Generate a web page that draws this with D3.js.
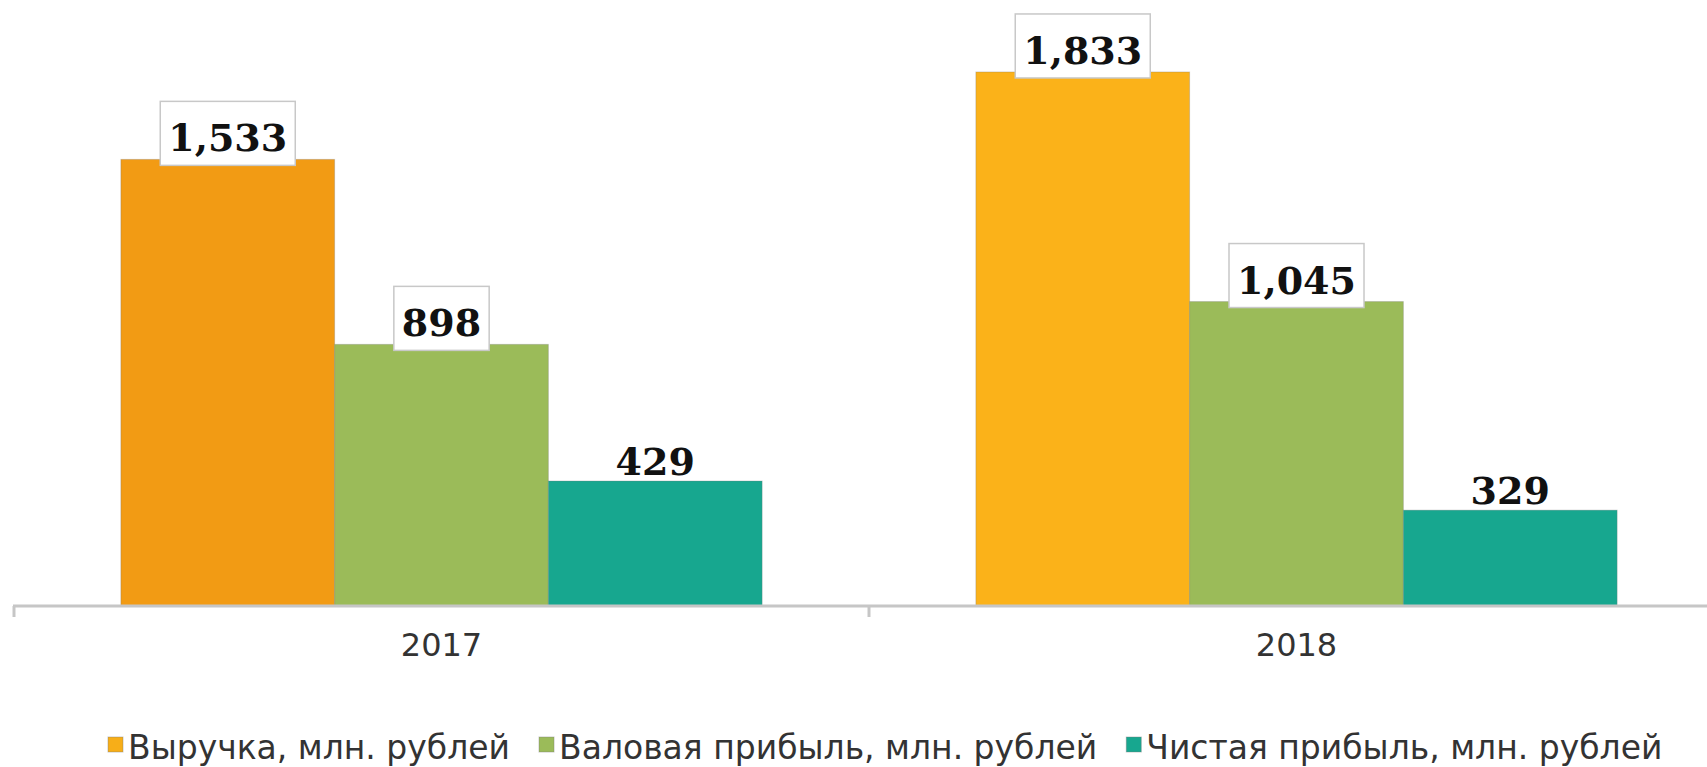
<!DOCTYPE html>
<html>
<head>
<meta charset="utf-8">
<script src="https://cdn.jsdelivr.net/npm/d3@7"></script>
<style>
  html, body { margin: 0; padding: 0; background: #fff; }
  svg { display: block; }
</style>
</head>
<body>
<div class="chart"></div>
<script>
// data
const years = ["2017", "2018"];
const seriesNames = [
  "Выручка, млн. рублей",
  "Валовая прибыль, млн. рублей",
  "Чистая прибыль, млн. рублей"
];
const revenue = [1533, 1833];
const grossProfit = [898, 1045];
const netProfit = [429, 329];

const W = 1707, H = 767;
const baseY = 606;

// revenue bar changes shade between the years
const revenueColors = ["#F29B14", "#FBB219"];
const seriesColors = ["#F7AE18", "#9BBB59", "#17A78F"];
const boxed = [true, true, false];

const values = [revenue, grossProfit, netProfit];

d3.select(".chart").html("");
const svg = d3.select(".chart")
  .append("svg")
  .attr("width", W)
  .attr("height", H);

const x0 = d3.scaleBand().domain(years).range([14, 1724]);
const x1 = d3.scaleBand().domain(d3.range(3)).range([0, x0.bandwidth()]).paddingOuter(0.5);
const y = d3.scaleLinear().domain([0, 2080]).range([baseY, 0]);

// flatten into one list of bars
const bars = [];
years.forEach((yr, i) => {
  values.forEach((arr, s) => {
    bars.push({ year: yr, s: s, value: arr[i], yi: i });
  });
});

const barColor = (d) => d.s === 0 ? revenueColors[d.yi] : seriesColors[d.s];

svg.selectAll(".bar")
  .data(bars)
  .enter()
  .append("rect")
  .attr("class", "bar")
  .attr("x", (d) => x0(d.year) + x1(d.s))
  .attr("width", x1.bandwidth())
  .attr("y", (d) => y(d.value))
  .attr("height", (d) => baseY - y(d.value))
  .attr("fill", barColor)
  .attr("stroke", "rgba(120,120,120,0.3)")
  .attr("stroke-width", 1);

// x axis
const axis = svg.append("g")
  .attr("transform", `translate(0,${baseY})`)
  .call(d3.axisBottom(x0).tickSize(0).tickPadding(0));
axis.select(".domain").remove();
axis.selectAll("text")
  .attr("y", 50)
  .attr("dy", 0)
  .style("font-family", "'DejaVu Sans', sans-serif")
  .style("font-size", "32px")
  .attr("fill", "#333");

svg.append("line")
  .attr("x1", 13).attr("x2", W)
  .attr("y1", baseY).attr("y2", baseY)
  .attr("stroke", "#c6c6c6").attr("stroke-width", 3);

const bounds = [x0.range()[0]].concat(years.map((yr) => x0(yr) + x0.bandwidth()));
svg.selectAll(".tick-mark")
  .data(bounds)
  .enter()
  .append("line")
  .attr("x1", (d) => d).attr("x2", (d) => d)
  .attr("y1", baseY).attr("y2", baseY + 11)
  .attr("stroke", "#c6c6c6").attr("stroke-width", 3);

// data labels
const labelFmt = d3.format(",");
const lbl = svg.selectAll(".lbl")
  .data(bars)
  .enter()
  .append("g")
  .attr("class", "lbl");

lbl.append("text")
  .attr("x", (d) => x0(d.year) + x1(d.s) + x1.bandwidth() / 2)
  .attr("y", (d) => y(d.value) - (boxed[d.s] ? 8 : 6))
  .attr("text-anchor", "middle")
  .style("font-family", "'DejaVu Serif', serif")
  .style("font-weight", "bold")
  .style("font-size", "38px")
  .attr("fill", "#111")
  .text((d) => labelFmt(d.value));

lbl.each(function (d) {
  if (!boxed[d.s]) return;
  const g = d3.select(this);
  const bb = g.select("text").node().getBBox();
  g.insert("rect", "text")
    .attr("x", bb.x - 8)
    .attr("y", y(d.value) - 58)
    .attr("width", bb.width + 16)
    .attr("height", 64)
    .attr("fill", "#fff")
    .attr("stroke", "#c8c8c8")
    .attr("stroke-width", 1.5);
});

// legend
const legend = svg.append("g").attr("transform", "translate(108,0)");
let lx = 0;
seriesNames.forEach((name, s) => {
  const item = legend.append("g").attr("transform", `translate(${lx},0)`);
  item.append("rect")
    .attr("x", 0).attr("y", 737)
    .attr("width", 15).attr("height", 15)
    .attr("fill", seriesColors[s])
    .attr("stroke", "rgba(120,120,120,0.4)");
  const t = item.append("text")
    .attr("x", 20).attr("y", 759)
    .style("font-family", "'DejaVu Sans', sans-serif")
    .style("font-size", "33px")
    .attr("fill", "#333")
    .text(name);
  lx += 20 + t.node().getComputedTextLength() + 29;
});
</script>
</body>
</html>
